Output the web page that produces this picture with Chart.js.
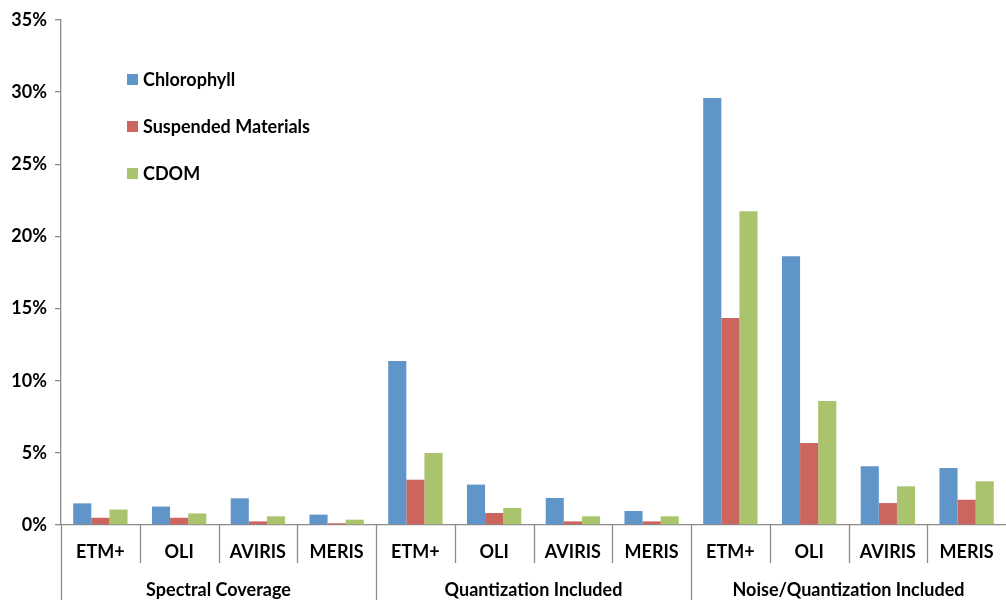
<!DOCTYPE html>
<html>
<head>
<meta charset="utf-8">
<script src="https://cdn.jsdelivr.net/npm/chart.js@4.4.1/dist/chart.umd.min.js"></script>
<style>
  html, body { margin: 0; padding: 0; background: #fff; }
  #wrap { width: 1006px; height: 600px; }
</style>
</head>
<body>
<div id="wrap"><canvas id="myChart" width="1006" height="600"></canvas></div>
<script>
// instruments repeated for each test group
const instruments = ['ETM+', 'OLI', 'AVIRIS', 'MERIS'];
const groups = ['Spectral Coverage', 'Quantization Included', 'Noise/Quantization Included'];
const labels = groups.flatMap(() => instruments);

// retrieval error, percent
const chlorophyll = [1.5, 1.28, 1.85, 0.72, 11.36, 2.8, 1.87, 0.97, 29.6, 18.62, 4.07, 3.95];
const suspended = [0.5, 0.5, 0.25, 0.12, 3.14, 0.83, 0.25, 0.25, 14.35, 5.68, 1.52, 1.75];
const cdom = [1.07, 0.8, 0.6, 0.37, 4.99, 1.18, 0.6, 0.6, 21.74, 8.6, 2.68, 3.03];

const yTicks = [0, 5, 10, 15, 20, 25, 30, 35];

const axisGray = '#8c8c8c';
const font = { family: 'Lato', size: 18, weight: 'bold' };

// draws the two-level x labels, separators and the vertical legend
const decorations = {
  id: 'decorations',
  afterDraw(chart) {
    const { ctx, chartArea, scales } = chart;
    const x = scales.x;
    const step = x.width / labels.length;
    const bottom = chartArea.bottom;
    ctx.save();
    ctx.strokeStyle = axisGray;
    ctx.lineWidth = 1.3;
    for (let i = 0; i < labels.length; i++) {
      const px = Math.round(x.getPixelForValue(i) - step / 2) + 0.5;
      const isGroup = i % instruments.length === 0;
      ctx.beginPath();
      ctx.moveTo(px, bottom);
      ctx.lineTo(px, isGroup ? chart.height : bottom + 38);
      ctx.stroke();
    }
    ctx.fillStyle = '#000';
    ctx.font = `${font.weight} ${font.size}px ${font.family}`;
    ctx.textAlign = 'center';
    ctx.textBaseline = 'middle';
    chart.data.labels.forEach((lab, i) => {
      ctx.fillText(lab, x.getPixelForValue(i), bottom + 27);
    });
    groups.forEach((g, gi) => {
      const a = x.getPixelForValue(gi * instruments.length) - step / 2;
      const b = x.getPixelForValue((gi + 1) * instruments.length - 1) + step / 2;
      ctx.fillText(g, (a + b) / 2, bottom + 65);
    });
    // legend
    ctx.textAlign = 'left';
    chart.data.datasets.forEach((ds, i) => {
      const cy = 80 + i * 47;
      ctx.fillStyle = ds.backgroundColor;
      ctx.fillRect(127, cy - 6, 11, 11);
      ctx.fillStyle = '#000';
      ctx.fillText(ds.label, 143, cy);
    });
    ctx.restore();
  }
};

new Chart(document.getElementById('myChart'), {
  type: 'bar',
  data: {
    labels: labels,
    datasets: [
      { label: 'Chlorophyll', data: chlorophyll, backgroundColor: '#5F95C9' },
      { label: 'Suspended Materials', data: suspended, backgroundColor: '#CC655E' },
      { label: 'CDOM', data: cdom, backgroundColor: '#A9C46C' },
    ],
  },
  options: {
    responsive: false,
    animation: false,
    layout: { padding: { top: 20, right: 0, left: 0, bottom: 0 } },
    datasets: { bar: { categoryPercentage: 0.69, barPercentage: 1.0 } },
    plugins: { legend: { display: false }, tooltip: { enabled: false } },
    scales: {
      x: {
        afterFit: (s) => { s.height = 75; },
        grid: { display: false },
        border: { display: true, color: axisGray, width: 1.3 },
        ticks: { display: false },
      },
      y: {
        min: 0,
        max: 35,
        afterFit: (s) => { s.width = 61; },
        afterBuildTicks: (s) => { s.ticks = yTicks.map(v => ({ value: v })); },
        grid: { drawOnChartArea: false, drawTicks: true, tickLength: 6, color: axisGray, lineWidth: 1.3 },
        border: { display: true, color: axisGray, width: 1.3 },
        ticks: { color: '#000', font: font, padding: 8, callback: (v) => v + '%' },
      },
    },
  },
  plugins: [decorations],
});
</script>
</body>
</html>
